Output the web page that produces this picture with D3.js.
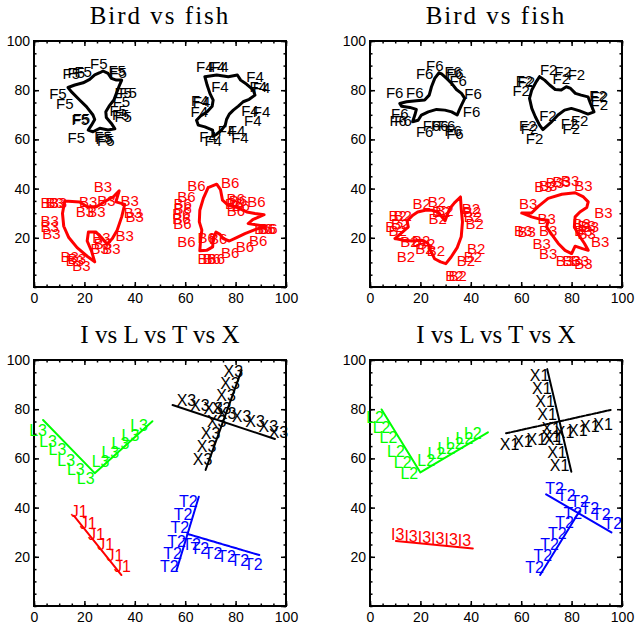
<!DOCTYPE html>
<html>
<head>
<meta charset="utf-8">
<script src="https://cdn.jsdelivr.net/npm/d3@7"></script>
<style>
  body { margin: 0; background: #fff; }
  svg text { font-family: "Liberation Sans", Arial, sans-serif; }
</style>
</head>
<body>
<div id="chart"></div>
<script>
// ---- data (axis units, 0..100) ----
const titles = ['Bird vs fish', 'Bird vs fish', 'I vs L vs T vs X', 'I vs L vs T vs X'];
const tickValues = [0, 20, 40, 60, 80, 100];
const yTickValues = [20, 40, 60, 80, 100];

// top-left panel
const birdF5 = [[13.5,81.1],[14.8,79.4],[18.1,76.0],[20.8,73.3],[23.4,69.9],[24.1,68.1],[22.8,65.8],[21.5,63.8],[23.4,63.1],[26.1,64.5],[29.4,63.8],[32.1,64.3],[30.7,66.5],[28.7,68.9],[28.5,71.2],[29.8,73.5],[31.7,76.0],[32.7,78.7],[33.8,81.7],[34.8,84.1],[32.7,84.1],[30.7,84.8],[29.4,86.8],[27.4,87.8],[26.1,87.1],[24.1,86.2],[22.1,84.4],[19.5,83.0],[16.2,82.1],[13.5,81.1]];
const labF5 = [[25.7,90.9],[14.8,86.8],[16.8,87.1],[19.5,87.5],[33.0,87.9],[33.4,87.1],[9.5,78.7],[12.2,74.6],[18.8,68.5],[18.4,68.0],[16.8,60.7],[27.4,61.0],[28.5,59.7],[27.9,60.3],[35.4,79.0],[37.3,79.0],[34.7,75.3],[33.4,71.9],[35.4,69.5],[34.4,70.0]];
const birdF4 = [[67.8,85.5],[72.5,86.2],[77.1,85.5],[80.7,86.2],[82.0,84.1],[84.4,82.4],[87.0,80.1],[87.7,78.0],[85.4,76.3],[83.0,75.3],[81.1,73.5],[79.1,71.9],[77.5,70.3],[76.4,68.1],[75.9,65.8],[74.4,63.8],[72.5,62.1],[71.1,61.3],[70.9,63.8],[67.8,65.1],[65.2,65.8],[64.5,67.8],[66.1,69.5],[68.7,71.2],[70.7,73.5],[71.1,76.0],[69.8,78.7],[68.7,82.1],[67.8,85.5]];
const labF4 = [[67.8,89.8],[72.5,89.6],[73.8,89.6],[73.8,81.4],[87.7,85.5],[89.0,81.4],[90.3,81.1],[65.8,75.7],[66.5,75.3],[65.6,71.2],[85.7,71.9],[90.3,71.2],[86.8,67.6],[80.4,63.8],[81.7,60.7],[69.1,61.3],[71.1,59.7],[76.4,63.8]];
const fishB3 = [[12.2,35.0],[18.1,34.6],[21.1,32.6],[24.8,32.6],[28.5,35.0],[31.4,36.6],[33.8,39.1],[32.5,34.6],[36.0,33.6],[34.8,28.5],[33.0,23.1],[31.1,19.7],[29.0,17.4],[26.8,20.1],[24.5,22.4],[21.6,22.4],[21.1,18.7],[22.8,14.7],[24.1,10.2],[21.1,12.5],[17.1,16.0],[13.8,20.1],[11.8,24.7],[11.3,29.9],[12.2,35.0]];
const labB3 = [[6.2,34.2],[8.2,34.2],[9.5,34.2],[6.2,27.1],[6.2,24.4],[6.9,21.7],[27.4,40.7],[21.5,34.6],[20.2,30.5],[24.8,30.5],[28.7,35.3],[38.0,35.0],[39.3,30.1],[40.0,28.5],[36.0,20.8],[26.8,20.3],[27.4,17.6],[30.7,15.6],[26.1,15.6],[14.2,12.5],[16.2,10.9],[18.8,8.8],[17.0,11.5]];
const fishB6 = [[69.1,40.4],[72.5,41.8],[74.0,39.6],[74.8,35.3],[77.1,33.2],[80.7,32.3],[84.4,30.5],[87.7,29.9],[91.3,29.4],[86.8,27.4],[85.0,25.8],[91.7,24.7],[87.7,23.3],[83.7,21.7],[80.4,20.1],[77.5,18.7],[75.1,19.7],[73.8,21.4],[72.2,22.3],[71.1,19.7],[70.9,16.3],[68.5,14.9],[65.8,14.7],[66.1,19.0],[66.6,23.1],[65.6,26.5],[65.8,31.2],[67.2,36.0],[69.1,40.4]];
const labB6 = [[64.5,41.4],[77.8,42.3],[60.5,36.6],[59.0,33.9],[59.0,31.9],[58.5,29.9],[58.5,27.8],[58.9,25.8],[80.0,36.0],[81.0,35.0],[82.0,33.0],[79.4,33.9],[80.1,31.2],[88.3,34.6],[91.0,23.7],[92.3,23.7],[93.0,23.7],[89.0,19.0],[83.7,16.3],[77.8,14.2],[60.5,18.3],[68.5,11.5],[70.5,11.5],[72.2,11.5],[68.5,20.3],[73.1,19.7]];

// top-right panel
const birdF6 = [[27.4,87.1],[25.7,84.8],[24.4,81.4],[23.5,78.0],[21.7,76.0],[18.4,75.7],[14.5,75.3],[11.8,74.6],[12.5,73.5],[15.8,73.0],[18.4,72.2],[17.8,69.9],[16.9,67.2],[19.1,67.8],[20.4,69.9],[23.1,71.2],[26.4,72.2],[29.7,71.9],[32.4,71.2],[34.6,69.9],[35.4,71.9],[36.3,73.9],[37.6,76.7],[36.3,78.7],[34.3,80.3],[32.4,82.8],[30.4,84.8],[28.4,86.6],[27.4,87.1]];
const labF6 = [[25.7,90.2],[21.7,86.9],[33.0,87.5],[33.7,86.9],[35.0,84.1],[9.8,79.0],[17.8,79.0],[40.9,78.7],[40.3,71.2],[11.8,70.6],[11.2,67.8],[13.1,67.8],[21.7,63.1],[24.4,65.8],[27.7,65.8],[30.4,65.8],[33.0,63.8],[33.7,62.4]];
const birdF2 = [[67.3,85.5],[69.3,84.1],[71.3,82.1],[73.5,80.3],[75.9,80.1],[77.9,81.4],[79.6,80.7],[81.5,78.7],[83.8,78.0],[86.5,77.3],[87.5,74.6],[88.9,71.2],[86.5,70.3],[83.2,71.6],[79.9,72.6],[77.2,71.9],[74.6,69.9],[71.7,66.8],[68.6,64.0],[67.3,65.8],[65.6,69.2],[64.2,72.6],[63.3,76.7],[64.2,80.1],[66.0,83.5],[67.3,85.5]];
const labF2 = [[70.9,88.5],[76.6,87.5],[81.9,86.2],[61.3,84.1],[62.0,83.5],[60.0,80.0],[75.9,84.8],[90.5,78.0],[91.0,77.3],[91.0,74.0],[70.6,69.9],[83.2,67.8],[79.2,66.5],[79.9,64.5],[62.6,65.8],[63.3,64.5],[65.3,60.4]];
const fishB2 = [[9.9,19.7],[13.0,22.4],[15.2,24.4],[14.7,26.9],[17.0,29.2],[18.9,30.5],[21.9,31.2],[24.5,31.2],[26.9,30.5],[28.5,28.5],[29.8,26.9],[30.6,29.2],[31.7,31.9],[33.5,34.2],[35.9,36.6],[36.2,31.9],[36.7,26.5],[36.2,20.4],[34.6,16.0],[32.2,12.2],[30.1,9.5],[28.0,10.2],[25.6,11.5],[24.0,14.9],[22.9,17.9],[20.3,19.0],[16.6,18.7],[13.4,19.0],[9.9,19.7]];
const labB2 = [[20.5,33.9],[26.6,34.6],[11.0,29.2],[13.0,29.2],[12.0,25.8],[11.0,23.1],[9.7,24.4],[28.2,30.5],[29.5,31.2],[26.9,27.8],[40.1,31.9],[40.4,30.5],[40.8,28.5],[41.5,25.8],[14.3,12.2],[15.6,18.3],[20.3,19.0],[22.3,17.6],[21.6,15.6],[26.2,14.9],[42.1,15.6],[40.8,12.2],[38.1,10.9],[33.5,4.7],[34.8,4.7]];
const fishB3b = [[60.2,30.1],[64.1,30.1],[66.8,32.8],[70.7,36.0],[76.1,37.7],[81.4,38.3],[84.7,36.6],[86.6,34.6],[86.0,32.3],[83.3,30.5],[81.4,28.5],[81.1,24.4],[82.7,21.4],[85.1,17.7],[86.6,14.9],[84.3,15.6],[81.4,16.6],[80.0,13.6],[77.4,14.9],[74.7,17.7],[72.1,21.4],[70.1,24.4],[70.7,27.1],[68.1,27.4],[64.1,28.5],[60.2,30.1]];
const labB3b = [[68.8,40.7],[70.7,41.4],[73.4,42.3],[76.1,42.7],[79.4,43.4],[84.7,41.4],[62.8,33.9],[92.6,30.1],[60.8,23.1],[62.2,22.4],[70.1,27.8],[70.7,23.1],[84.0,25.8],[86.0,25.1],[87.3,24.4],[84.7,23.1],[86.0,21.7],[91.3,18.3],[68.1,17.7],[70.7,13.6],[77.4,10.9],[80.0,10.9],[83.3,10.9],[84.7,9.5]];

// bottom-left panel
const lineL3 = [[3.6,75.6],[24.1,54.0],[47.0,75.1]];
const labL3 = [[1.6,71.5],[5.6,67.0],[9.3,63.8],[12.8,59.3],[16.6,55.6],[20.5,51.9],[26.4,58.7],[30.3,62.2],[34.3,65.9],[38.3,69.5],[41.7,73.3]];
const lineX3a = [[55.0,81.7],[95.6,67.9]];
const lineX3b = [[82.4,95.9],[68.1,55.3]];
const labX3 = [[79.1,95.5],[77.8,90.4],[76.2,85.4],[74.5,80.2],[72.5,75.2],[70.1,70.1],[68.5,65.0],[66.9,59.6],[60.5,83.7],[65.8,81.7],[71.1,80.4],[76.4,78.3],[82.4,77.0],[87.7,75.2],[93.0,72.9],[97.0,70.6]];
const lineJ1 = [[15.8,36.7],[34.7,12.6]];
const labJ1 = [[17.9,38.3],[21.5,33.6],[24.8,29.1],[28.5,24.8],[32.1,20.5],[35.1,16.0]];
const lineT2a = [[65.4,44.4],[56.6,14.6]];
const lineT2b = [[60.9,29.3],[89.4,20.7]];
const labT2 = [[61.2,42.4],[59.2,37.0],[57.9,31.9],[56.6,26.2],[55.0,21.5],[53.7,16.0],[62.5,24.8],[65.8,23.2],[71.1,21.4],[76.4,20.1],[81.7,18.3],[87.0,16.7]];

// bottom-right panel
const lineL2 = [[4.6,79.9],[20.0,54.3],[46.8,70.6]];
const labL2 = [[2.0,76.6],[4.6,72.5],[7.3,68.4],[10.3,63.0],[13.0,58.4],[15.6,53.9],[22.3,59.3],[26.3,61.8],[30.3,64.0],[33.6,66.0],[37.5,68.0],[40.8,70.2]];
const lineI3 = [[10.3,26.4],[40.8,23.4]];
const labI3 = [[11.0,28.9],[16.3,28.2],[21.6,27.8],[26.9,27.5],[32.2,27.1],[37.5,26.8]];
const lineX1a = [[70.3,96.3],[79.9,54.6]];
const lineX1b = [[54.0,70.2],[95.5,79.7]];
const labX1 = [[67.3,93.9],[68.2,88.5],[69.5,83.1],[70.3,77.7],[71.9,72.3],[72.9,67.5],[74.2,62.5],[75.2,57.3],[55.4,65.7],[60.7,66.8],[66.0,67.8],[71.9,69.1],[77.2,70.6],[82.5,71.5],[87.2,72.9],[92.5,73.6]];
const lineT2c = [[67.5,12.6],[83.2,38.6]];
const lineT2d = [[69.9,45.4],[95.8,29.9]];
const labT2b = [[73.2,47.8],[77.9,45.1],[83.2,42.4],[87.2,39.7],[91.8,37.0],[96.4,33.6],[65.3,15.6],[68.6,20.5],[71.3,25.1],[74.3,29.5],[77.2,34.0],[80.5,37.7]];

// ---- layout ----
const BLACK = '#000000', RED = '#ff0000', GREEN = '#00ff00', BLUE = '#0000ff';
const W = 637, H = 634;
const plotW = 252, plotH = 246;

const panels = [
    { title: titles[0], left: 34, top: 41, series: [
        { paths: [birdF5], text: 'F5', labels: labF5, color: BLACK, width: 3 },
        { paths: [birdF4], text: 'F4', labels: labF4, color: BLACK, width: 3 },
        { paths: [fishB3], text: 'B3', labels: labB3, color: RED, width: 3 },
        { paths: [fishB6], text: 'B6', labels: labB6, color: RED, width: 3 }
    ]},
    { title: titles[1], left: 370, top: 41, series: [
        { paths: [birdF6], text: 'F6', labels: labF6, color: BLACK, width: 3 },
        { paths: [birdF2], text: 'F2', labels: labF2, color: BLACK, width: 3 },
        { paths: [fishB2], text: 'B2', labels: labB2, color: RED, width: 3 },
        { paths: [fishB3b], text: 'B3', labels: labB3b, color: RED, width: 3 }
    ]},
    { title: titles[2], left: 34, top: 360, series: [
        { paths: [lineL3], text: 'L3', labels: labL3, color: GREEN, width: 2 },
        { paths: [lineX3a, lineX3b], text: 'X3', labels: labX3, color: BLACK, width: 2 },
        { paths: [lineJ1], text: 'J1', labels: labJ1, color: RED, width: 2 },
        { paths: [lineT2a], text: 'T2', labels: labT2, color: BLUE, width: 2 },
        { paths: [lineT2b], text: '', labels: [], color: BLUE, width: 2, dash: '3,1' }
    ]},
    { title: titles[3], left: 370, top: 360, series: [
        { paths: [lineL2], text: 'L2', labels: labL2, color: GREEN, width: 2 },
        { paths: [lineI3], text: 'I3', labels: labI3, color: RED, width: 2 },
        { paths: [lineX1a], text: 'X1', labels: labX1, color: BLACK, width: 2 },
        { paths: [lineX1b], text: '', labels: [], color: BLACK, width: 2, dash: '4,1.5' },
        { paths: [lineT2c, lineT2d], text: 'T2', labels: labT2b, color: BLUE, width: 2 }
    ]}
];

const svg = d3.select('#chart').append('svg')
    .attr('width', W)
    .attr('height', H);

const minorValues = d3.range(0, 101, 5);

panels.forEach((p, i) => {
    const g = svg.append('g')
        .attr('transform', 'translate(' + p.left + ',' + p.top + ')');

    const x = d3.scaleLinear().domain([0, 100]).range([0, plotW]);
    const y = d3.scaleLinear().domain([0, 100]).range([plotH, 0]);

    // title
    g.append('text')
        .attr('x', plotW / 2)
        .attr('y', -17)
        .attr('text-anchor', 'middle')
        .style('font-family', '"Liberation Serif", "Times New Roman", serif')
        .style('font-size', '25px')
        .style('letter-spacing', i < 2 ? '2px' : '0px')
        .style('fill', '#000')
        .text(p.title);

    // minor ticks on all four sides
    const minor = [
        d3.axisBottom(x).tickValues(minorValues).tickSizeInner(-2.5),
        d3.axisTop(x).tickValues(minorValues).tickSizeInner(-2.5),
        d3.axisLeft(y).tickValues(minorValues).tickSizeInner(-2.5),
        d3.axisRight(y).tickValues(minorValues).tickSizeInner(-2.5)
    ];
    const shifts = ['0,' + plotH, '0,0', '0,0', plotW + ',0'];
    minor.forEach((ax, k) => {
        g.append('g')
            .attr('class', 'minor')
            .attr('transform', 'translate(' + shifts[k] + ')')
            .call(ax.tickSizeOuter(0).tickFormat(''))
            .call(s => s.select('.domain').remove())
            .selectAll('line').attr('stroke', '#000').attr('stroke-width', 1.5);
    });

    // major ticks
    const major = [
        d3.axisBottom(x).tickValues(tickValues).tickSizeInner(-5).tickPadding(6),
        d3.axisTop(x).tickValues(tickValues).tickSizeInner(-5).tickFormat(''),
        d3.axisLeft(y).tickValues(yTickValues).tickSizeInner(-5).tickPadding(4),
        d3.axisRight(y).tickValues(tickValues).tickSizeInner(-5).tickFormat('')
    ];
    major.forEach((ax, k) => {
        const a = g.append('g')
            .attr('transform', 'translate(' + shifts[k] + ')')
            .call(ax.tickSizeOuter(0));
        a.select('.domain').remove();
        a.selectAll('line').attr('stroke', '#000').attr('stroke-width', 1.5);
        a.selectAll('text')
            .style('font-family', '"Liberation Sans", Arial, sans-serif')
            .style('font-size', '14px')
            .style('fill', '#000');
    });

    // frame
    g.append('rect')
        .attr('x', 0)
        .attr('y', 0)
        .attr('width', plotW)
        .attr('height', plotH)
        .attr('fill', 'none')
        .attr('stroke', '#000')
        .attr('stroke-width', 2);

    const line = d3.line()
        .x(d => x(d[0]))
        .y(d => y(d[1]));

    p.series.forEach(s => {
        s.paths.forEach(pts => {
            g.append('path')
                .attr('d', line(pts))
                .attr('fill', 'none')
                .attr('stroke', s.color)
                .attr('stroke-width', s.width)
                .attr('stroke-linejoin', 'round')
                .attr('stroke-linecap', 'round')
                .attr('stroke-dasharray', s.dash || null);
        });

        g.selectAll(null)
            .data(s.labels)
            .enter()
            .append('text')
            .attr('x', d => x(d[0]))
            .attr('y', d => y(d[1]))
            .attr('text-anchor', 'middle')
            .attr('dominant-baseline', 'central')
            .style('font-size', i < 2 ? '15px' : '16px')
            .style('fill', s.color)
            .text(s.text);
    });
});
</script>
</body>
</html>
